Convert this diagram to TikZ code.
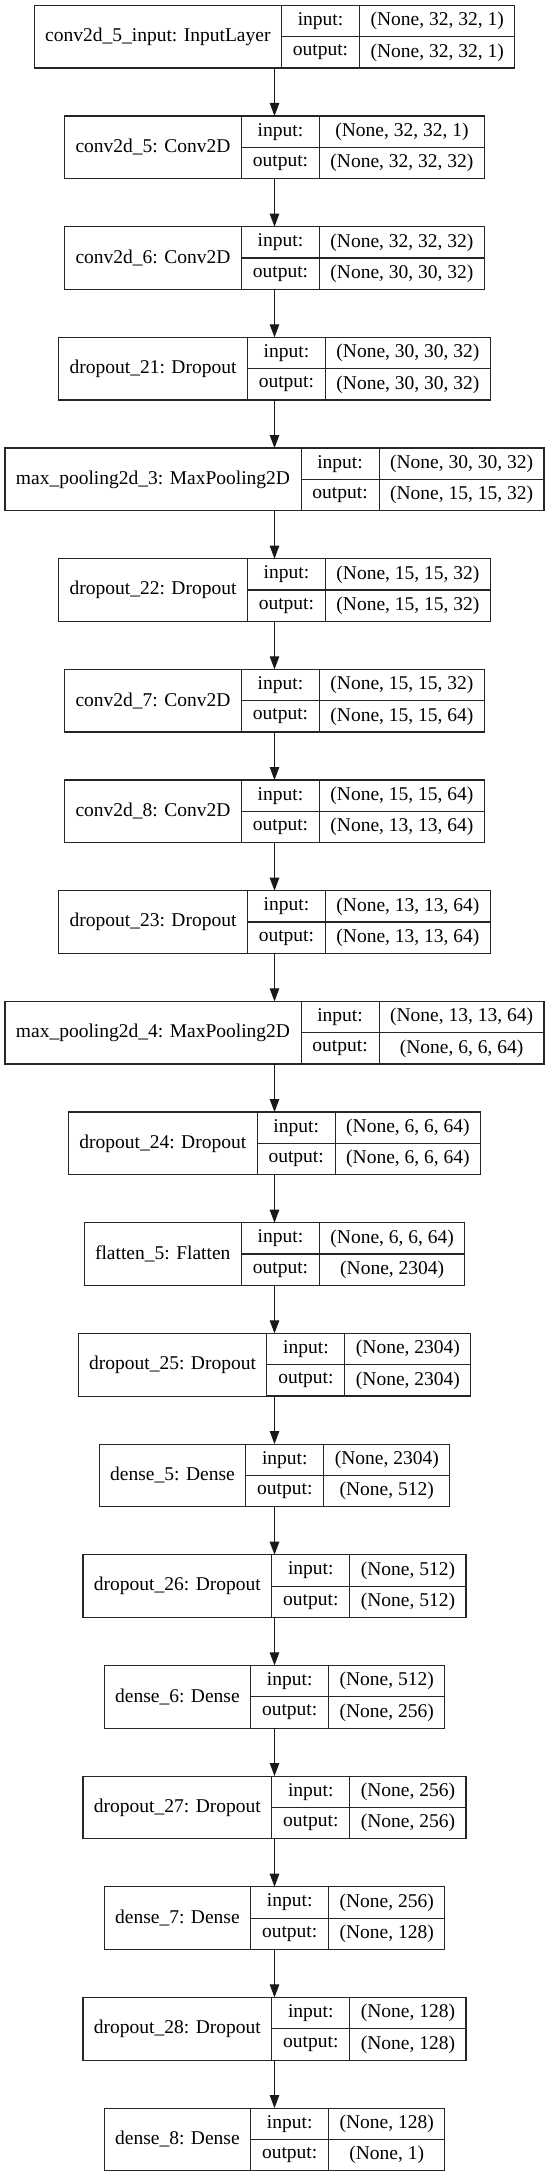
\documentclass[tikz,border=0pt]{standalone}
\usepackage{fontspec}
\setmainfont{Liberation Serif}
\usepackage{tikz}
\usetikzlibrary{arrows.meta, positioning}

\newcommand\layerfont{\fontsize{19.5}{23}\selectfont}
\newcommand\measure[2]{%
  \settowidth{#1}{\pgfinterruptpicture\layerfont#2\endpgfinterruptpicture}}
\newlength\namew
\newlength\inw
\newlength\outw

\tikzset{
  cell/.style={draw=black!85, line width=1.1pt, inner sep=0pt,
    outer sep=0pt, font=\layerfont, anchor=north west},
  record/.style={inner sep=0pt, outer sep=0pt, minimum height=62.67pt},
  flow/.style={line width=1.1pt, black!90,
    -{Triangle[length=13pt,width=9.5pt]}}
}

\begin{document}
\begin{tikzpicture}[x=1pt,y=-1pt]
\def\cx{274.5}
\def\pitch{110.67}
\def\rowh{31.33pt}
\def\labw{78pt}
\def\pad{22}
\useasboundingbox (0,0) rectangle (549,2176);

% Layers: name / input shape / output shape
\foreach \lname/\lin/\lout [count=\k] in {
  {conv2d\_5\_input: InputLayer}/{(None, 32, 32, 1)}/{(None, 32, 32, 1)},
  {conv2d\_5: Conv2D}/{(None, 32, 32, 1)}/{(None, 32, 32, 32)},
  {conv2d\_6: Conv2D}/{(None, 32, 32, 32)}/{(None, 30, 30, 32)},
  {dropout\_21: Dropout}/{(None, 30, 30, 32)}/{(None, 30, 30, 32)},
  {max\_pooling2d\_3: MaxPooling2D}/{(None, 30, 30, 32)}/{(None, 15, 15, 32)},
  {dropout\_22: Dropout}/{(None, 15, 15, 32)}/{(None, 15, 15, 32)},
  {conv2d\_7: Conv2D}/{(None, 15, 15, 32)}/{(None, 15, 15, 64)},
  {conv2d\_8: Conv2D}/{(None, 15, 15, 64)}/{(None, 13, 13, 64)},
  {dropout\_23: Dropout}/{(None, 13, 13, 64)}/{(None, 13, 13, 64)},
  {max\_pooling2d\_4: MaxPooling2D}/{(None, 13, 13, 64)}/{(None, 6, 6, 64)},
  {dropout\_24: Dropout}/{(None, 6, 6, 64)}/{(None, 6, 6, 64)},
  {flatten\_5: Flatten}/{(None, 6, 6, 64)}/{(None, 2304)},
  {dropout\_25: Dropout}/{(None, 2304)}/{(None, 2304)},
  {dense\_5: Dense}/{(None, 2304)}/{(None, 512)},
  {dropout\_26: Dropout}/{(None, 512)}/{(None, 512)},
  {dense\_6: Dense}/{(None, 512)}/{(None, 256)},
  {dropout\_27: Dropout}/{(None, 256)}/{(None, 256)},
  {dense\_7: Dense}/{(None, 256)}/{(None, 128)},
  {dropout\_28: Dropout}/{(None, 128)}/{(None, 128)},
  {dense\_8: Dense}/{(None, 128)}/{(None, 1)}%
}{
  \measure{\namew}{\lname}
  \measure{\inw}{\lin}
  \measure{\outw}{\lout}
  \pgfmathsetmacro\nw{\namew+\pad}
  \pgfmathsetmacro\vw{max(\inw,\outw)+\pad}
  \pgfmathsetmacro\tw{\nw+78+\vw}
  \pgfmathsetmacro\ty{5.33+(\k-1)*\pitch+31.33}
  \node[record, minimum width=\tw pt] (L\k) at (\cx,\ty) {};
  \node[cell, minimum width=\nw pt, minimum height=62.67pt]
    (L\k-name) at (L\k.north west) {\lname};
  \node[cell, minimum width=\labw, minimum height=\rowh]
    (L\k-in) at (L\k-name.north east) {input:};
  \node[cell, minimum width=\labw, minimum height=\rowh]
    (L\k-out) at (L\k-in.south west) {output:};
  \node[cell, minimum width=\vw pt, minimum height=\rowh]
    (L\k-inval) at (L\k-in.north east) {\lin};
  \node[cell, minimum width=\vw pt, minimum height=\rowh]
    (L\k-outval) at (L\k-out.north east) {\lout};
}

% Arrows
\foreach \k in {2,...,20}{
  \pgfmathtruncatemacro\p{\k-1}
  \draw[flow] (L\p.south) -- (L\k.north);
}
\end{tikzpicture}
\end{document}
